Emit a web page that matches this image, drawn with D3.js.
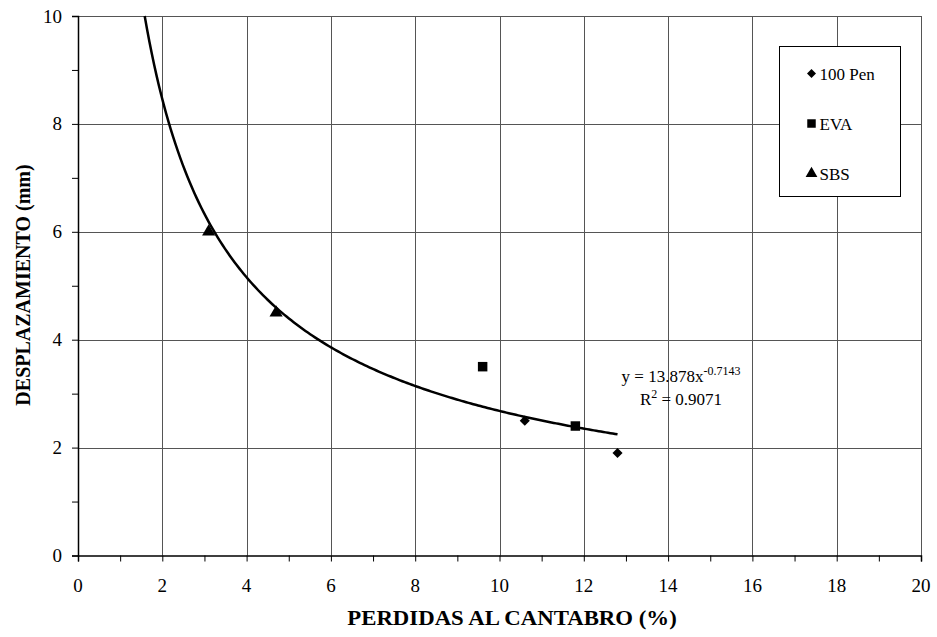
<!DOCTYPE html>
<html>
<head>
<meta charset="utf-8">
<script src="https://cdn.jsdelivr.net/npm/d3@7"></script>
<style>
  body { margin: 0; background: #fff; }
  text { font-family: "Liberation Serif", "Times New Roman", serif; fill: #000; }
</style>
</head>
<body>
<div id="chart"></div>
<script>
// data
var pen100 = [[10.6, 2.5], [12.8, 1.9]];
var eva = [[9.6, 3.5], [11.8, 2.4]];
var sbs = [[3.1, 6.0], [4.7, 4.5]];
var seriesNames = ["100 Pen", "EVA", "SBS"];
// power trendline y = a * x^b
var trendA = 13.878, trendB = -0.7143, trendR2 = 0.9071;
var trendXmax = 12.8;
var xTicks = [0, 2, 4, 6, 8, 10, 12, 14, 16, 18, 20];
var yTicks = [0, 2, 4, 6, 8, 10];

var margin = { top: 16, right: 16, bottom: 82, left: 78 };
var width = 937 - margin.left - margin.right;
var height = 637 - margin.top - margin.bottom;

var svg = d3.select("#chart")
  .append("svg")
    .attr("width", 937)
    .attr("height", 637)
  .append("g")
    .attr("transform", `translate(${margin.left},${margin.top})`);

var x = d3.scaleLinear().domain([0, 20]).range([0, 843]);
var y = d3.scaleLinear().domain([0, 10]).range([539.5, 0]);

// gridlines
svg.append("g").selectAll("line.v")
  .data(xTicks.slice(1))
  .enter().append("line")
    .attr("x1", d => Math.round(x(d)) + 0.5)
    .attr("x2", d => Math.round(x(d)) + 0.5)
    .attr("y1", 0).attr("y2", y(0))
    .attr("stroke", "#555").attr("stroke-width", 1);

svg.append("g").selectAll("line.h")
  .data(yTicks.slice(1))
  .enter().append("line")
    .attr("y1", d => Math.round(y(d)) + 0.5)
    .attr("y2", d => Math.round(y(d)) + 0.5)
    .attr("x1", 0).attr("x2", x(20))
    .attr("stroke", "#555").attr("stroke-width", 1);

// axes with minor ticks
var xAxis = d3.axisBottom(x).tickValues(d3.range(0, 21, 1)).tickSize(6).tickFormat("");
var yAxis = d3.axisLeft(y).tickValues(d3.range(0, 11, 1)).tickSize(6).tickFormat("");

var gx = svg.append("g")
  .attr("transform", `translate(0,${y(0)})`)
  .call(xAxis);
var gy = svg.append("g").call(yAxis);
[gx, gy].forEach(g => {
  g.select(".domain").attr("stroke", "#000").attr("stroke-width", 1.5);
  g.selectAll(".tick line").attr("stroke", "#000");
});

// tick labels
svg.append("g").selectAll("text")
  .data(xTicks)
  .enter().append("text")
    .attr("x", d => x(d))
    .attr("y", y(0) + 36.5)
    .attr("text-anchor", "middle")
    .style("font-size", "19px")
    .text(d => d);

svg.append("g").selectAll("text")
  .data(yTicks)
  .enter().append("text")
    .attr("x", -16)
    .attr("y", d => y(d) + 6.5)
    .attr("text-anchor", "end")
    .style("font-size", "19px")
    .text(d => d);

// axis titles (the x title is a bit wider in the source)
svg.append("text")
  .attr("transform", `translate(434,${y(0) + 69.5}) scale(1.14,1)`)
  .attr("text-anchor", "middle")
  .style("font-size", "20px")
  .style("font-weight", "bold")
  .text("PERDIDAS AL CANTABRO (%)");

svg.append("text")
  .attr("transform", "rotate(-90)")
  .attr("x", -(285 - margin.top))
  .attr("y", -48)
  .attr("text-anchor", "middle")
  .style("font-size", "20px")
  .style("font-weight", "bold")
  .text("DESPLAZAMIENTO (mm)");

// trendline
var xStart = Math.pow(10 / trendA, 1 / trendB);
var trend = d3.range(0, 201).map(i => {
  var xv = xStart + (trendXmax - xStart) * i / 200;
  return [xv, trendA * Math.pow(xv, trendB)];
});
svg.append("path")
  .datum(trend)
  .attr("fill", "none")
  .attr("stroke", "#000")
  .attr("stroke-width", 2.5)
  .attr("d", d3.line().x(d => x(d[0])).y(d => y(d[1])));

// markers
var shapes = [
  { data: pen100, sym: d3.symbolDiamond2, size: 65 },
  { data: eva, sym: d3.symbolSquare, size: 90 },
  { data: sbs, sym: d3.symbolTriangle, size: 75 }
];
shapes.forEach(s => {
  svg.append("g").selectAll("path")
    .data(s.data)
    .enter().append("path")
      .attr("transform", d => `translate(${x(d[0])},${y(d[1])})`)
      .attr("d", d3.symbol().type(s.sym).size(s.size))
      .attr("fill", "#000");
});

// equation
var eq = svg.append("text")
  .attr("x", 603)
  .attr("y", 365.5)
  .attr("text-anchor", "middle")
  .style("font-size", "17px");
eq.append("tspan").text("y = 13.878x");
eq.append("tspan").attr("dy", -7).style("font-size", "12px").text("-0.7143");

var r2 = svg.append("text")
  .attr("x", 603)
  .attr("y", 389)
  .attr("text-anchor", "middle")
  .style("font-size", "17px");
r2.append("tspan").text("R");
r2.append("tspan").attr("dy", -7).style("font-size", "12px").text("2");
r2.append("tspan").attr("dy", 7).text(" = " + trendR2);

// legend
var lg = svg.append("g").attr("transform", "translate(701.5,30.5)");
lg.append("rect")
  .attr("width", 121).attr("height", 150)
  .attr("fill", "#fff").attr("stroke", "#000");
shapes.forEach((s, i) => {
  var ly = 27 + i * 50;
  lg.append("path")
    .attr("transform", `translate(32,${ly})`)
    .attr("d", d3.symbol().type(s.sym).size(s.size * 0.8))
    .attr("fill", "#000");
  lg.append("text")
    .attr("x", 40)
    .attr("y", ly + 6)
    .style("font-size", "17px")
    .text(seriesNames[i]);
});
</script>
</body>
</html>
